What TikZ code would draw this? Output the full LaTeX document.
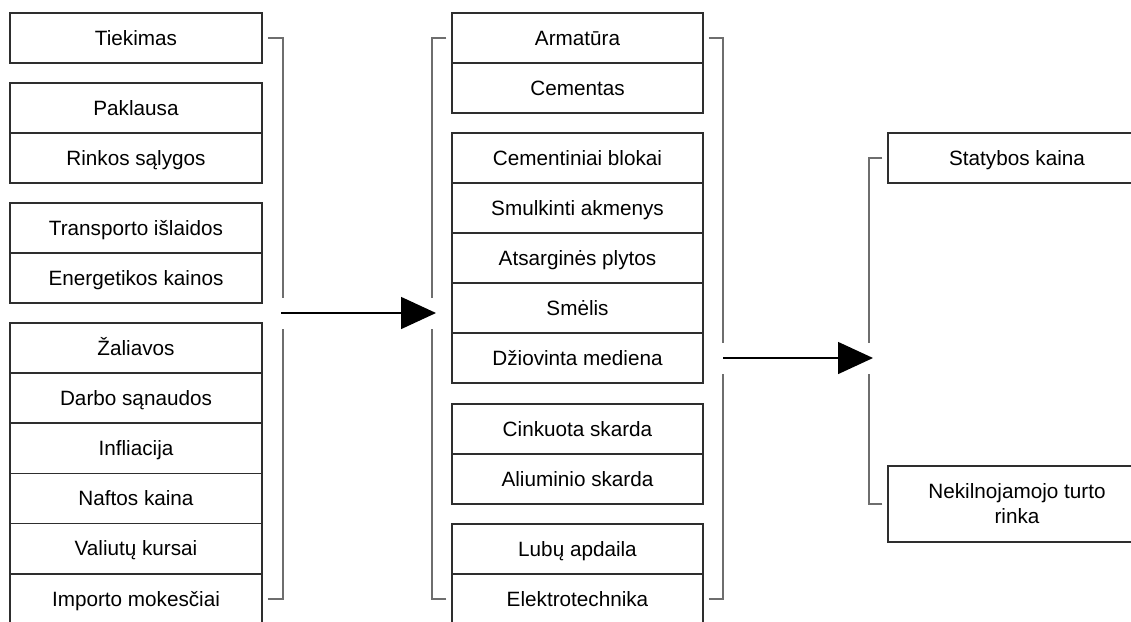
\documentclass[tikz,border=0pt]{standalone}
\usepackage{fontspec}
\setmainfont{Liberation Sans}
\usetikzlibrary{arrows.meta}
\definecolor{boxc}{HTML}{2E2E2E}
\definecolor{brc}{HTML}{6E6E6E}
\begin{document}
\begin{tikzpicture}[x=1pt,y=-1pt,
  box/.style={draw=boxc,line width=1.5pt,minimum height=50pt,inner sep=0pt,anchor=center,
    font=\fontsize{20.7}{25}\selectfont},
  one/.style={text height=14.9pt,text depth=0pt},
  lbox/.style={box,one,minimum width=252pt},
  mbox/.style={box,one,minimum width=251pt},
  rbox/.style={box,minimum width=258pt},
  br/.style={draw=brc,line width=1.8pt},
  arr/.style={draw=black,line width=1.5pt,-{Triangle[length=35pt,width=32pt]}}]
\useasboundingbox (0,0) rectangle (1131,621);
\clip (0,0) rectangle (1131,621);
% left column
\node[lbox] (tiek) at (136,38) {Tiekimas};
\node[lbox] (pakl) at (136,108) {Paklausa};
\node[lbox] (rink) at (136,158) {Rinkos sąlygos};
\node[lbox] (tran) at (136,228) {Transporto išlaidos};
\node[lbox] (ener) at (136,278) {Energetikos kainos};
\node[lbox] (zali) at (136,348) {Žaliavos};
\node[lbox] (darb) at (136,398) {Darbo sąnaudos};
\node[lbox] (infl) at (136,448.5) {Infliacija};
\node[lbox] (naft) at (136,498.5) {Naftos kaina};
\node[lbox] (valt) at (136,548.5) {Valiutų kursai};
\node[lbox] (impo) at (136,599) {Importo mokesčiai};
% middle column
\node[mbox] (arm) at (577.5,38) {Armatūra};
\node[mbox] (cem) at (577.5,88) {Cementas};
\node[mbox] (cbl) at (577.5,158) {Cementiniai blokai};
\node[mbox] (sma) at (577.5,208) {Smulkinti akmenys};
\node[mbox] (atp) at (577.5,258) {Atsarginės plytos};
\node[mbox] (sme) at (577.5,308) {Smėlis};
\node[mbox] (dzm) at (577.5,358) {Džiovinta mediena};
\node[mbox] (cin) at (577.5,429) {Cinkuota skarda};
\node[mbox] (ali) at (577.5,479) {Aliuminio skarda};
\node[mbox] (lub) at (577.5,549) {Lubų apdaila};
\node[mbox] (elek) at (577.5,599) {Elektrotechnika};
% right column
\node[rbox,one] (stat) at (1017,158) {Statybos kaina};
\node[rbox,minimum height=76pt,align=center] (nek) at (1017,504) {Nekilnojamojo turto\\rinka};
% left bracket
\coordinate (la) at (283,298);
\coordinate (lb) at (283,329);
\draw[br] ([xshift=5pt]tiek.east) -| (la);
\draw[br] ([xshift=5pt]impo.east) -| (lb);
% middle left bracket
\coordinate (ma) at (432,298);
\coordinate (mb) at (432,329);
\draw[br] ([xshift=-5pt]arm.west) -| (ma);
\draw[br] ([xshift=-5pt]elek.west) -| (mb);
% middle right bracket
\coordinate (na) at (723,343);
\coordinate (nb) at (723,374);
\draw[br] ([xshift=5pt]arm.east) -| (na);
\draw[br] ([xshift=5pt]elek.east) -| (nb);
% right bracket
\coordinate (ra) at (869,343);
\coordinate (rb) at (869,374);
\draw[br] ([xshift=-5pt]stat.west) -| (ra);
\draw[br] ([xshift=-5pt]nek.west) -| (rb);
% arrows
\coordinate (a1s) at (281,313);
\coordinate (a1e) at (436,313);
\coordinate (a2s) at (723,358);
\coordinate (a2e) at (873,358);
\draw[arr] (a1s) -- (a1e);
\draw[arr] (a2s) -- (a2e);
\end{tikzpicture}
\end{document}
